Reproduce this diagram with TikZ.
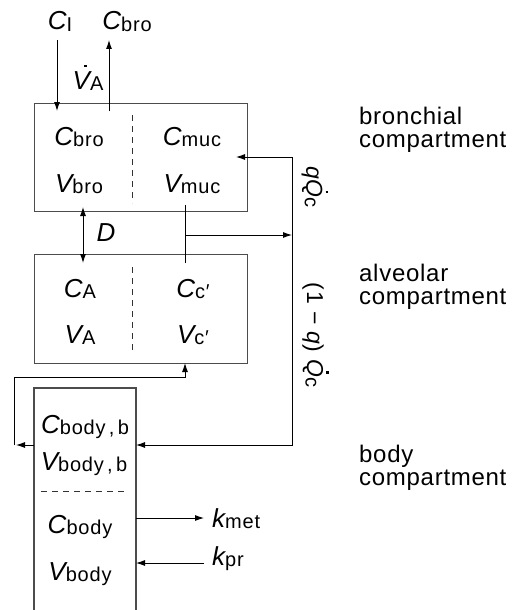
\documentclass[tikz,border=0pt]{standalone}
\usepackage{fontspec}
\setmainfont{Liberation Sans}
\newfontfamily\trk[LetterSpace=4]{Liberation Sans}
\newfontfamily\trkb[LetterSpace=3]{Liberation Sans}
\usetikzlibrary{arrows.meta}
\newcommand\sbs[1]{\raisebox{-1.5pt}{\fontsize{20}{20}\selectfont\trk #1}}
\newcommand\vv[2]{{\itshape #1}\sbs{#2}}
\newcommand\dotover[1]{\ooalign{#1\cr\hidewidth\kern0.32em\raisebox{0.84em}{\rule{2.6pt}{2.6pt}}\hidewidth\cr}}
\begin{document}
\begin{tikzpicture}[x=1pt,y=-1pt,
  box/.style={draw=black!70, line width=1.2pt},
  conn/.style={line width=0.9pt},
  arr/.style={conn, -{Latex[length=9pt,width=6pt]}},
  dsh/.style={draw=black!80, line width=0.9pt, dash pattern=on 6pt off 5pt},
  lbl/.style={font=\fontsize{26}{28}\selectfont, anchor=base, inner sep=0pt},
  rot/.style={font=\fontsize{23}{25}\selectfont\trk, anchor=center, inner sep=0pt, rotate=-90},
  side/.style={font=\fontsize{24}{24}\selectfont\trkb, anchor=base west, inner sep=0pt, align=left}]
\useasboundingbox (0,0) rectangle (513,610);
% boxes
\node[box, minimum width=213pt, minimum height=108pt, inner sep=0pt, anchor=north west] (bro) at (34,103) {};
\node[box, minimum width=213pt, minimum height=109pt, inner sep=0pt, anchor=north west] (alv) at (34,254) {};
\coordinate (bodyTL) at (34,388);
\coordinate (bodyTR) at (136,388);
\draw[box] (34,610) -- (bodyTL) -- (bodyTR) -- (136,610);
% dashed separators
\draw[dsh] (132,115) -- (132,203);
\draw[dsh] (132,267) -- (132,351);
\draw[dsh] (41,491) -- (126,491);
% labels in boxes
\node[lbl] (cb) at (79,145) {\vv{C}{bro}};
\node[lbl] (vb) at (79,192) {\vv{V}{bro}};
\node[lbl] (cm) at (192,145) {\vv{C}{muc}};
\node[lbl] (vm) at (192,192) {\vv{V}{muc}};
\node[lbl] (ca) at (80,297) {\vv{C}{A}};
\node[lbl] (va) at (80,343) {\vv{V}{A}};
\node[lbl] (cc) at (193,297) {\vv{C}{c\char"2032}};
\node[lbl] (vc) at (193,343) {\vv{V}{c\char"2032}};
\node[lbl] (cbb) at (85,433) {\vv{C}{body\,,\,b}};
\node[lbl] (vbb) at (84,470) {\vv{V}{body\,,\,b}};
\node[lbl] (cbd) at (80,533) {\vv{C}{body}};
\node[lbl] (vbd) at (80,580) {\vv{V}{body}};
% top labels
\node[lbl] (ci) at (60,30) {\vv{C}{I}};
\node[lbl] (co) at (127,30) {\vv{C}{bro}};
\node[lbl] (va2) at (88,89) {{\itshape\dotover{V}}\sbs{A}};
\node[lbl] (dl) at (106,241) {\itshape D};
\node[lbl, anchor=base west] (km) at (212,527) {\vv{k}{met}};
\node[lbl, anchor=base west] (kp) at (212,565) {\vv{k}{pr}};
% side labels
\node[side] (t1) at (359,147) {bronchial\\[-1pt]compartment};
\node[side] (t2) at (359,304) {alveolar\\[-1pt]compartment};
\node[side] (t3) at (359,485) {body\\[-1pt]compartment};
% rotated flow labels
\node[rot] (qq) at (312,187) {{\itshape q}{\itshape\dotover{Q}}\sbs{c}};
\node[rot] (q1) at (313,335) {(1 \char"2212{} {\itshape q}) {\itshape\dotover{Q}}\sbs{c}};
% coordinates for connectors
\coordinate (ciA) at (57,40);   \coordinate (ciB) at (57,111);
\coordinate (coA) at (109,111); \coordinate (coB) at (109,40);
\coordinate (dA) at (83,207);   \coordinate (dB) at (83,263);
\coordinate (mA) at (185,205);  \coordinate (mB) at (185,263);
\coordinate (mJ) at (185,235);  \coordinate (rJ) at (292,235);
\coordinate (rT) at (292,157);  \coordinate (rIn) at (236,157);
\coordinate (rB) at (292,445);  \coordinate (bIn) at (136,445);
\coordinate (bOut) at (34,445); \coordinate (lC) at (14,445);
\coordinate (lT) at (14,377);   \coordinate (aIn) at (185,363);
\coordinate (kmA) at (136,518); \coordinate (kmB) at (204,518);
\coordinate (kpA) at (204,563); \coordinate (kpB) at (136,563);
% connectors
\draw[arr] (ciA) -- (ciB);
\draw[arr] (coA) -- (coB);
\draw[conn, {Latex[length=9pt,width=6pt]}-{Latex[length=9pt,width=6pt]}] (dA) -- (dB);
\draw[conn] (mA) -- (mB);
\draw[arr] (mJ) -- (rJ);
\draw[arr] (rT) -- (rIn);
\draw[arr] (rT) -- (rB) -- (bIn);
\draw[arr] (bOut) -- ([xshift=2pt]lC);
\draw[arr] (lC) -- (lT) -| (aIn);
\draw[arr] (kmA) -- (kmB);
\draw[arr] (kpA) -- (kpB);
\end{tikzpicture}
\end{document}
